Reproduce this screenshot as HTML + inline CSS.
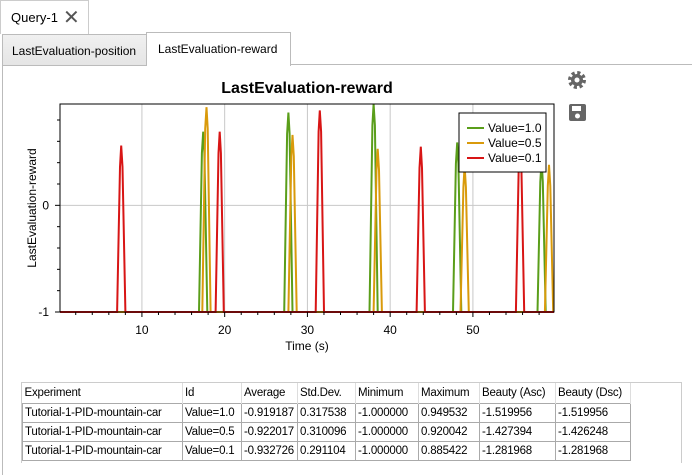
<!DOCTYPE html>
<html><head><meta charset="utf-8"><style>
body{margin:0;width:692px;height:475px;background:#fff;font-family:"Liberation Sans",sans-serif;font-size:12px;color:#000;position:relative;overflow:hidden}
.abs{position:absolute}
table{border-collapse:collapse;font-size:11.5px;table-layout:fixed;width:608px}
td{border:1px solid #aaa;padding:0 2px;height:18px;white-space:nowrap;overflow:hidden;letter-spacing:-0.2px}
th{font-weight:normal;text-align:left;border-right:1px solid #ddd;padding:0 2px;height:20px;white-space:nowrap;overflow:hidden;letter-spacing:-0.2px}
</style></head><body>
<div class="abs" style="left:0;top:0;width:87px;height:33px;border:1px solid #ccc;border-bottom:none;background:#fff"><span class="abs" style="left:10px;top:9px;font-size:13px">Query-1</span><span class="abs" style="left:62px;top:4px;font-size:20px;color:#555">✕</span></div>
<div class="abs" style="left:2px;top:34px;width:143px;height:30px;border:1px solid #bbb;background:linear-gradient(#f0f0f0,#e5e5e5)"><span class="abs" style="left:9px;top:9px">LastEvaluation-position</span></div>
<div class="abs" style="left:146px;top:32px;width:143px;height:33px;border:1px solid #bbb;border-bottom:none;background:#fff"><span class="abs" style="left:11px;top:9px">LastEvaluation-reward</span></div>
<div class="abs" style="left:290px;top:64px;width:402px;height:1px;background:#bbb"></div>
<div class="abs" style="left:2px;top:65px;width:1px;height:410px;background:#bbb"></div>
<svg class="abs" style="left:0;top:0" width="692" height="475" id="chart">
<text x="307" y="93" text-anchor="middle" font-size="16" font-weight="bold">LastEvaluation-reward</text>
<text transform="translate(36,208) rotate(-90)" text-anchor="middle" font-size="12">LastEvaluation-reward</text>
<text x="307" y="350" text-anchor="middle" font-size="12">Time (s)</text>
<g id="grid"></g><g id="series"></g><g id="axes"></g>
<g transform="translate(577,80)"><circle r="7" fill="none" stroke="#666" stroke-width="4" stroke-dasharray="3 2.5"/><circle r="6" fill="#666"/><circle r="2.5" fill="#fff"/></g>
<g transform="translate(569,104)"><rect width="17" height="17" rx="2" fill="#666"/><rect x="3" y="2" width="9" height="5" fill="#fff"/><circle cx="8.5" cy="12" r="2.5" fill="#fff"/></g>
<g>
<rect x="459" y="113" width="87" height="59" fill="#fff" stroke="#000"/>
<g id="legend"></g></g>
</svg>
<div class="abs" style="left:21px;top:382px;width:659px;height:80px;border:1px solid #ccc;border-bottom:none">
<table>
<colgroup><col style="width:160px"><col style="width:59px"><col style="width:56px"><col style="width:58px"><col style="width:63px"><col style="width:61px"><col style="width:76px"><col style="width:75px"></colgroup>
<tr><th>Experiment</th><th>Id</th><th>Average</th><th>Std.Dev.</th><th>Minimum</th><th>Maximum</th><th>Beauty (Asc)</th><th>Beauty (Dsc)</th></tr>
<tr><td>Tutorial-1-PID-mountain-car</td><td>Value=1.0</td><td>-0.919187</td><td>0.317538</td><td>-1.000000</td><td>0.949532</td><td>-1.519956</td><td>-1.519956</td></tr>
<tr><td>Tutorial-1-PID-mountain-car</td><td>Value=0.5</td><td>-0.922017</td><td>0.310096</td><td>-1.000000</td><td>0.920042</td><td>-1.427394</td><td>-1.426248</td></tr>
<tr><td>Tutorial-1-PID-mountain-car</td><td>Value=0.1</td><td>-0.932726</td><td>0.291104</td><td>-1.000000</td><td>0.885422</td><td>-1.281968</td><td>-1.281968</td></tr>
</table></div>
<script>
const seriesNames=["Value=1.0","Value=0.5","Value=0.1"];
const seriesColors=["#5a9e1a","#d99a0b","#d81515"];
const peakTimes1=[17.4,27.7,38.0,48.1,58.3];
const peakVals1=[0.69,0.87,0.95,0.59,0.42];
const peakTimes05=[17.8,28.2,38.5,49.0,59.2];
const peakVals05=[0.92,0.66,0.53,0.37,0.38];
const peakTimes01=[7.5,19.4,31.5,43.7,55.7];
const peakVals01=[0.56,0.69,0.89,0.55,0.6];
const xTicks=[10,20,30,40,50];
const yTicks=[0,-1];
const X0=0.1,X1=59.8,Y0=-1,Y1=0.95;
const L=60,R=554,T=104,B=312;
const sx=v=>L+(v-X0)/(X1-X0)*(R-L);
const sy=v=>B-(v-Y0)/(Y1-Y0)*(B-T);
const NS="http://www.w3.org/2000/svg";
function mk(tag,attrs,parent){const e=document.createElementNS(NS,tag);for(const k in attrs)e.setAttribute(k,attrs[k]);parent.appendChild(e);return e;}
const grid=document.getElementById('grid'),axes=document.getElementById('axes'),ser=document.getElementById('series'),leg=document.getElementById('legend');
xTicks.forEach(t=>{const l=mk('line',{x1:sx(t),x2:sx(t),y1:T,y2:B,stroke:'#c8c8c8'},grid);


const tx=mk('text',{x:sx(t),y:334,'text-anchor':'middle','font-size':12},axes);tx.textContent=t;

});
for(let t=2;t<60;t+=2){mk('line',{x1:sx(t),x2:sx(t),y1:B,y2:B+(t%10?3:5),stroke:'#000'},axes);}
yTicks.forEach(t=>{const l=mk('line',{x1:L,x2:R,y1:sy(t),y2:sy(t),stroke:'#c8c8c8'},grid);


const tx=mk('text',{x:L-11,y:sy(t)+4,'text-anchor':'end','font-size':12},axes);tx.textContent=t;


mk('line',{x1:L-5,x2:L,y1:sy(t),y2:sy(t),stroke:'#000'},axes);});
[-0.2,-0.4,-0.6,-0.8,0.2,0.4,0.6,0.8].forEach(t=>mk('line',{x1:L-3,x2:L,y1:sy(t),y2:sy(t),stroke:'#000'},axes));
mk('rect',{x:L,y:T,width:R-L,height:B-T,fill:'none',stroke:'#000'},axes);
const allT=[peakTimes1,peakTimes05,peakTimes01],allV=[peakVals1,peakVals05,peakVals01];
allT.forEach((times,i)=>{let pts=[[X0,-1]];times.forEach((t,j)=>{pts.push([t-0.5,-1],[t-0.15,allV[i][j]-0.2],[t,allV[i][j]],[t+0.15,allV[i][j]-0.2],[Math.min(t+0.5,X1),-1]);});pts.push([X1,-1]);
const p=mk('polyline',{points:pts.map(q=>sx(Math.min(q[0],X1)).toFixed(1)+','+sy(q[1]).toFixed(1)).join(' '),fill:'none',stroke:seriesColors[i],'stroke-width':2},ser);


const y=128+i*15;mk('line',{x1:467,x2:484,y1:y,y2:y,stroke:seriesColors[i],'stroke-width':2},leg);
const tx=mk('text',{x:488,y:y+4,'font-size':12},leg);tx.textContent=seriesNames[i];

});
</script>
</body></html>
